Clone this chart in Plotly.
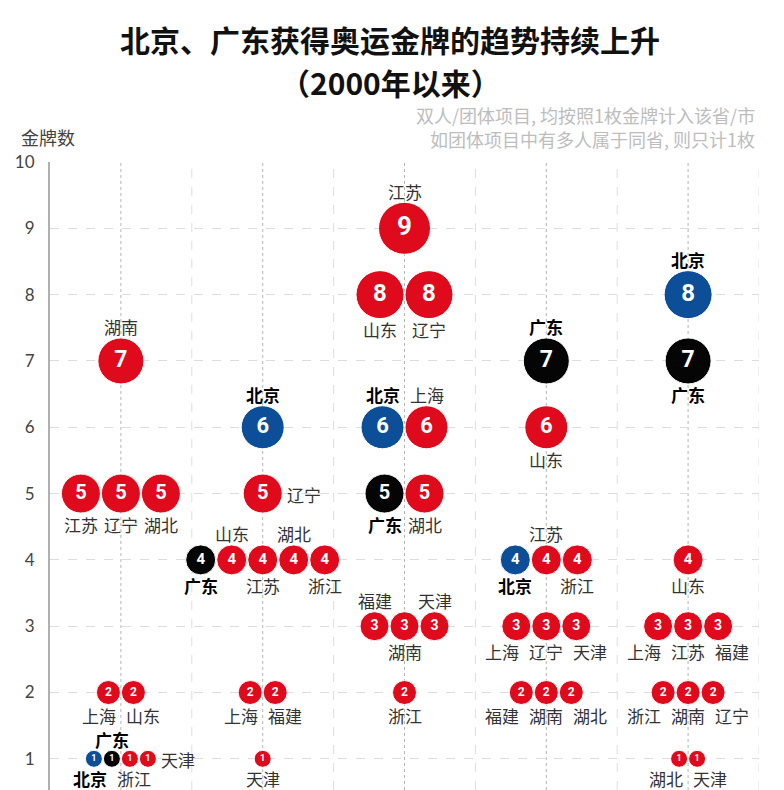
import plotly.graph_objects as go

# ---------------- data ----------------
games = ["2000", "2004", "2008", "2012", "2016"]

provinces_2000 = ["湖南", "江苏", "辽宁", "湖北", "上海", "山东", "北京", "广东", "浙江", "天津"]
medals_2000 = [7, 5, 5, 5, 2, 2, 1, 1, 1, 1]

provinces_2004 = ["北京", "辽宁", "广东", "山东", "江苏", "湖北", "浙江", "上海", "福建", "天津"]
medals_2004 = [6, 5, 4, 4, 4, 4, 4, 2, 2, 1]

provinces_2008 = ["江苏", "山东", "辽宁", "北京", "上海", "广东", "湖北", "福建", "湖南", "天津", "浙江"]
medals_2008 = [9, 8, 8, 6, 6, 5, 5, 3, 3, 3, 2]

provinces_2012 = ["广东", "山东", "北京", "江苏", "浙江", "上海", "辽宁", "天津", "福建", "湖南", "湖北"]
medals_2012 = [7, 6, 4, 4, 4, 3, 3, 3, 2, 2, 2]

provinces_2016 = ["北京", "广东", "山东", "上海", "江苏", "福建", "浙江", "湖南", "辽宁", "湖北", "天津"]
medals_2016 = [8, 7, 4, 3, 3, 3, 2, 2, 2, 1, 1]

y_ticks = [1, 2, 3, 4, 5, 6, 7, 8, 9, 10]

title_line1 = "北京、广东获得奥运金牌的趋势持续上升"
title_line2 = "（2000年以来）"
note_line1 = "双人/团体项目, 均按照1枚金牌计入该省/市"
note_line2 = "如团体项目中有多人属于同省, 则只计1枚"
y_title = "金牌数"

# ---------------- style ----------------
RED = "#df0a1c"
BLUE = "#0c4f98"
BLACK = "#050505"
COLOR_OF = {"北京": BLUE, "广东": BLACK}
BOLD = {"北京", "广东"}

DIAM = {1: 17, 2: 24, 3: 29, 4: 30, 5: 39, 6: 43, 7: 46, 8: 48, 9: 52}

LABEL_SIDE = {
    ("2000", "湖南"): "top", ("2000", "广东"): "top", ("2000", "天津"): "right",
    ("2004", "北京"): "top", ("2004", "山东"): "top", ("2004", "湖北"): "top",
    ("2004", "辽宁"): "right",
    ("2008", "江苏"): "top", ("2008", "北京"): "top", ("2008", "上海"): "top",
    ("2008", "福建"): "top", ("2008", "天津"): "top",
    ("2012", "广东"): "top", ("2012", "江苏"): "top",
    ("2016", "北京"): "top",
}

W, H = 784, 790
ML, MR, MT = 50, 25, 162
X_RANGE = [-0.5, 4.5]
Y_RANGE = [0.53, 10]
PX_PER_X = (W - ML - MR) / (X_RANGE[1] - X_RANGE[0])

per_game = {
    "2000": (provinces_2000, medals_2000),
    "2004": (provinces_2004, medals_2004),
    "2008": (provinces_2008, medals_2008),
    "2012": (provinces_2012, medals_2012),
    "2016": (provinces_2016, medals_2016),
}

pts = {c: dict(x=[], y=[], text=[], size=[], fsize=[]) for c in (RED, BLUE, BLACK)}
annotations = []

LABEL_FONT = "Noto Sans CJK SC"
for gi, g in enumerate(games):
    provs, meds = per_game[g]
    groups = {}
    for p, m in zip(provs, meds):
        groups.setdefault(m, []).append(p)
    for m, members in groups.items():
        d = DIAM[m]
        sp = d + 1
        n = len(members)
        offs = [(i - (n - 1) / 2) * sp for i in range(n)]
        sides = [LABEL_SIDE.get((g, p), "bottom") for p in members]
        label_x = list(offs)
        for side in ("top", "bottom"):
            idx = [i for i in range(n) if sides[i] == side]
            if len(idx) > 1:
                gaps = [offs[idx[k + 1]] - offs[idx[k]] for k in range(len(idx) - 1)]
                if min(gaps) < 38:
                    mean = sum(offs[i] for i in idx) / len(idx)
                    for k, i in enumerate(idx):
                        label_x[i] = mean + (k - (len(idx) - 1) / 2) * 44
        for i, p in enumerate(members):
            c = COLOR_OF.get(p, RED)
            pts[c]["x"].append(gi + offs[i] / PX_PER_X)
            pts[c]["y"].append(m)
            pts[c]["text"].append(str(m))
            pts[c]["size"].append(d)
            pts[c]["fsize"].append(max(9, round(d * 0.5)))
            r = d / 2
            bold = p in BOLD
            txt = f"<b>{p}</b>" if bold else p
            col = "#000000" if bold else "#333333"
            ann = dict(x=gi, y=m, xref="x", yref="y", text=txt, showarrow=False,
                       font=dict(family=LABEL_FONT, size=17, color=col))
            if sides[i] == "right":
                ann.update(xanchor="left", yanchor="middle", xshift=offs[i] + r + 3, yshift=-1)
            elif sides[i] == "top":
                ann.update(xanchor="center", yanchor="middle", xshift=label_x[i], yshift=r + 11)
            else:
                ann.update(xanchor="center", yanchor="middle", xshift=label_x[i], yshift=-(r + 11))
            annotations.append(ann)

fig = go.Figure()
for c, dct in pts.items():
    fig.add_trace(go.Scatter(
        x=dct["x"], y=dct["y"], mode="markers+text", text=dct["text"],
        textposition="middle center",
        textfont=dict(family="Roboto", size=dct["fsize"], color="white", weight="bold"),
        marker=dict(size=dct["size"], color=c, line=dict(color="white", width=1), opacity=1),
        hoverinfo="skip", showlegend=False, cliponaxis=False,
    ))

shapes = []
for gi in range(len(games)):
    shapes.append(dict(type="line", xref="x", yref="paper", x0=gi, x1=gi, y0=0, y1=1,
                       line=dict(color="#b5b5b5", width=1, dash="dot"), layer="below"))
    shapes.append(dict(type="line", xref="x", yref="paper", x0=gi + 0.5, x1=gi + 0.5, y0=0, y1=1,
                       line=dict(color="#dedede", width=1, dash="dash"), layer="below"))

# titles and notes
annotations += [
    dict(xref="paper", yref="paper", x=0.48, y=1, yshift=MT - 39, text=f"<b>{title_line1}</b>",
         showarrow=False, xanchor="center", yanchor="middle",
         font=dict(family="Noto Sans CJK SC", size=30, color="#111111")),
    dict(xref="paper", yref="paper", x=0.48, y=1, yshift=MT - 82, text=f"<b>{title_line2}</b>",
         showarrow=False, xanchor="center", yanchor="middle",
         font=dict(family="Noto Sans CJK SC", size=30, color="#111111")),
    dict(xref="paper", yref="paper", x=1, y=1, xshift=-2, yshift=MT - 115, text=note_line1,
         showarrow=False, xanchor="right", yanchor="middle",
         font=dict(family="Noto Sans CJK SC", size=18, color="#bdbdbd")),
    dict(xref="paper", yref="paper", x=1, y=1, xshift=-2, yshift=MT - 139, text=note_line2,
         showarrow=False, xanchor="right", yanchor="middle",
         font=dict(family="Noto Sans CJK SC", size=18, color="#bdbdbd")),
    dict(xref="paper", yref="paper", x=0, y=1, xshift=-31, yshift=MT - 137, text=y_title,
         showarrow=False, xanchor="left", yanchor="middle",
         font=dict(family="Noto Sans CJK SC", size=18, color="#444444")),
]

fig.update_layout(
    width=W, height=H,
    margin=dict(l=ML, r=MR, t=MT, b=0, pad=0),
    paper_bgcolor="white", plot_bgcolor="white",
    xaxis=dict(range=X_RANGE, tickvals=list(range(len(games))), ticktext=games,
               showticklabels=False, showgrid=False, zeroline=False, showline=False, fixedrange=True),
    yaxis=dict(range=Y_RANGE, tickvals=y_ticks, showgrid=True, gridcolor="#dddddd", griddash="dash",
               gridwidth=1, zeroline=False, showline=True, linecolor="#b0b0b0", linewidth=2,
               tickfont=dict(family="Lato", size=17, color="#444444"), ticks="",
               ticklabelstandoff=10, fixedrange=True),
    shapes=shapes,
    annotations=annotations,
    showlegend=False,
)

fig.write_html("out.html")
